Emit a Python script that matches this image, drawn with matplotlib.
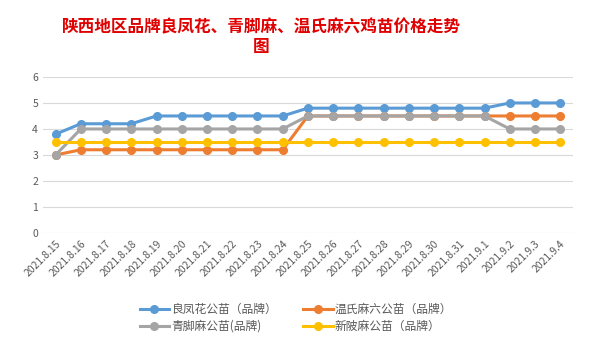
import matplotlib.pyplot as plt

plt.rcParams['font.family'] = ['Noto Sans CJK SC', 'DejaVu Sans']

dates = ['2021.8.15', '2021.8.16', '2021.8.17', '2021.8.18', '2021.8.19', '2021.8.20',
         '2021.8.21', '2021.8.22', '2021.8.23', '2021.8.24', '2021.8.25', '2021.8.26',
         '2021.8.27', '2021.8.28', '2021.8.29', '2021.8.30', '2021.8.31', '2021.9.1',
         '2021.9.2', '2021.9.3', '2021.9.4']
liangfenghua = [3.8, 4.2, 4.2, 4.2, 4.5, 4.5, 4.5, 4.5, 4.5, 4.5, 4.8, 4.8, 4.8, 4.8,
                4.8, 4.8, 4.8, 4.8, 5.0, 5.0, 5.0]
wenshi = [3.0, 3.2, 3.2, 3.2, 3.2, 3.2, 3.2, 3.2, 3.2, 3.2, 4.5, 4.5, 4.5, 4.5,
          4.5, 4.5, 4.5, 4.5, 4.5, 4.5, 4.5]
qingjiaoma = [3.0, 4.0, 4.0, 4.0, 4.0, 4.0, 4.0, 4.0, 4.0, 4.0, 4.5, 4.5, 4.5, 4.5,
              4.5, 4.5, 4.5, 4.5, 4.0, 4.0, 4.0]
xinbeima = [3.5] * 21

labels = ['良凤花公苗（品牌）', '温氏麻六公苗（品牌）', '青脚麻公苗(品牌)', '新陂麻公苗（品牌）']
colors = ['#5B9BD5', '#ED7D31', '#A5A5A5', '#FFC000']

fig = plt.figure(figsize=(5.92, 3.53), dpi=100)
ax = fig.add_axes([0.0726, 0.34, 0.895, 0.442])

x = list(range(len(dates)))
lines = []
for vals, lab, c in zip([liangfenghua, wenshi, qingjiaoma, xinbeima], labels, colors):
    ln, = ax.plot(x, vals, color=c, lw=2.2, marker='o', markersize=5.5, label=lab)
    lines.append(ln)

ax.set_xlim(-0.5, len(dates) - 0.5)
ax.set_ylim(0, 6)
ax.set_yticks(range(7))
ax.set_xticks(x)
ax.set_xticklabels(dates, rotation=45, ha='right', rotation_mode='anchor')
ax.tick_params(axis='both', length=0, labelsize=7.5, colors='#595959')
ax.tick_params(axis='x', pad=4)
ax.grid(axis='y', color='#D9D9D9', lw=0.8)
ax.set_axisbelow(True)
for s in ax.spines.values():
    s.set_visible(False)

fig.text(0.441, 0.895, '陕西地区品牌良凤花、青脚麻、温氏麻六鸡苗价格走势\n图',
         ha='center', va='center', color='#E00000', fontsize=12, fontweight='bold',
         linespacing=1.15)

# legend order: column-wise fill
order = [0, 2, 1, 3]
fig.legend([lines[i] for i in order], [labels[i] for i in order], ncol=2,
           loc='center', bbox_to_anchor=(0.5, 0.1), frameon=False, fontsize=8.5,
           handlelength=2.5, handletextpad=0.2, columnspacing=2.2, labelspacing=0.35,
           labelcolor='#595959')

fig.savefig('out.png', dpi=100)
